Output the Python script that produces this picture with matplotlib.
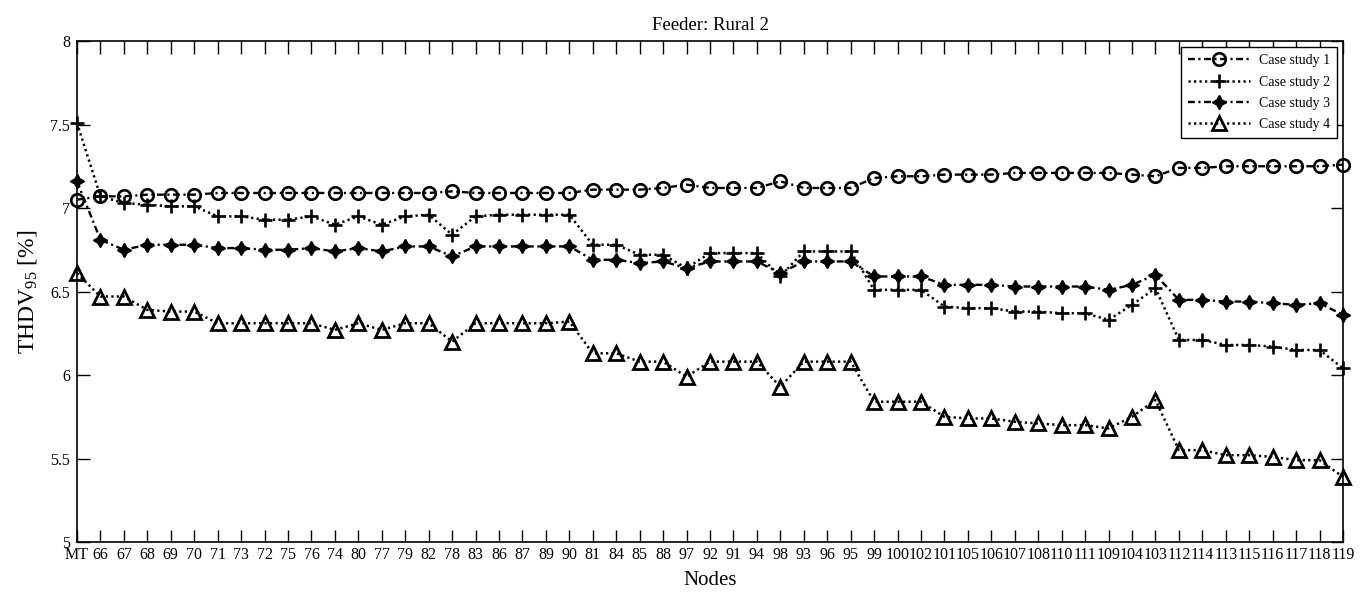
import numpy as np
import matplotlib
matplotlib.use("Agg")
import matplotlib.pyplot as plt

plt.rcParams['font.family'] = ['Liberation Serif', 'DejaVu Serif']
plt.rcParams['mathtext.fontset'] = 'custom'
plt.rcParams['mathtext.rm'] = 'Liberation Serif'
plt.rcParams['mathtext.it'] = 'Liberation Serif:italic'

# node order along the feeder
nodes = ['MT', '66', '67', '68', '69', '70', '71', '73', '72', '75', '76', '74',
         '80', '77', '79', '82', '78', '83', '86', '87', '89', '90', '81', '84',
         '85', '88', '97', '92', '91', '94', '98', '93', '96', '95', '99', '100',
         '102', '101', '105', '106', '107', '108', '110', '111', '109', '104',
         '103', '112', '114', '113', '115', '116', '117', '118', '119']

case1 = [7.05, 7.07, 7.07, 7.08, 7.08, 7.08, 7.09, 7.09, 7.09, 7.09, 7.09, 7.09,
         7.09, 7.09, 7.09, 7.09, 7.10, 7.09, 7.09, 7.09, 7.09, 7.09, 7.11, 7.11,
         7.11, 7.12, 7.14, 7.12, 7.12, 7.12, 7.16, 7.12, 7.12, 7.12, 7.18, 7.19,
         7.19, 7.20, 7.20, 7.20, 7.21, 7.21, 7.21, 7.21, 7.21, 7.20, 7.19, 7.24,
         7.24, 7.25, 7.25, 7.25, 7.25, 7.25, 7.26]

case2 = [7.51, 7.07, 7.03, 7.02, 7.01, 7.01, 6.95, 6.95, 6.93, 6.93, 6.95, 6.90,
         6.95, 6.90, 6.95, 6.96, 6.84, 6.95, 6.96, 6.96, 6.96, 6.96, 6.78, 6.78,
         6.72, 6.72, 6.64, 6.73, 6.73, 6.73, 6.59, 6.74, 6.74, 6.74, 6.51, 6.51,
         6.51, 6.41, 6.40, 6.40, 6.38, 6.38, 6.37, 6.37, 6.33, 6.42, 6.52, 6.21,
         6.21, 6.18, 6.18, 6.17, 6.15, 6.15, 6.04]

case3 = [7.16, 6.81, 6.75, 6.78, 6.78, 6.78, 6.76, 6.76, 6.75, 6.75, 6.76, 6.74,
         6.76, 6.74, 6.77, 6.77, 6.71, 6.77, 6.77, 6.77, 6.77, 6.77, 6.69, 6.69,
         6.67, 6.68, 6.64, 6.68, 6.68, 6.68, 6.61, 6.68, 6.68, 6.68, 6.59, 6.59,
         6.59, 6.54, 6.54, 6.54, 6.53, 6.53, 6.53, 6.53, 6.51, 6.54, 6.60, 6.45,
         6.45, 6.44, 6.44, 6.43, 6.42, 6.43, 6.36]

case4 = [6.61, 6.47, 6.47, 6.39, 6.38, 6.38, 6.31, 6.31, 6.31, 6.31, 6.31, 6.27,
         6.31, 6.27, 6.31, 6.31, 6.20, 6.31, 6.31, 6.31, 6.31, 6.32, 6.13, 6.13,
         6.08, 6.08, 5.99, 6.08, 6.08, 6.08, 5.93, 6.08, 6.08, 6.08, 5.84, 5.84,
         5.84, 5.75, 5.74, 5.74, 5.72, 5.71, 5.70, 5.70, 5.68, 5.75, 5.85, 5.55,
         5.55, 5.52, 5.52, 5.51, 5.49, 5.49, 5.39]

x = np.arange(len(nodes))

# matlab-like dash patterns (scaled by line width)
dashdot = (0, (2.9, 1.5, 0.9, 1.5))
dotted = (0, (0.9, 1.3))

fig = plt.figure(figsize=(13.7, 5.97), dpi=100)
ax = fig.add_axes([0.0562, 0.0921, 0.9241, 0.8392])

ax.plot(x, case1, linestyle=dashdot, color='k', lw=1.7, marker='o', ms=9,
        mfc='none', mew=1.9, label='Case study 1', clip_on=False)
ax.plot(x, case2, linestyle=dotted, color='k', lw=1.8, marker='+', ms=10,
        mew=1.9, label='Case study 2', clip_on=False)
ax.plot(x, case3, linestyle=dashdot, color='k', lw=1.7, marker=(4, 1, 0), ms=10,
        mew=1.2, label='Case study 3', clip_on=False)
ax.plot(x, case4, linestyle=dotted, color='k', lw=1.8, marker='^', ms=10,
        mfc='none', mew=2.0, label='Case study 4', clip_on=False)

ax.set_xlim(0, len(nodes) - 1)
ax.set_ylim(5, 8)
ax.set_xticks(x)
ax.set_xticklabels(nodes)
ax.set_yticks([5, 5.5, 6, 6.5, 7, 7.5, 8])
ax.set_yticklabels(['5', '5.5', '6', '6.5', '7', '7.5', '8'])
ax.tick_params(direction='in', length=9, width=1, top=True, right=True,
               labelsize=11.5)
ax.tick_params(axis='x', pad=3.5)
ax.tick_params(axis='y', pad=5)
for s in ax.spines.values():
    s.set_linewidth(1.2)

ax.set_title('Feeder: Rural 2', fontsize=13.5, pad=8)
ax.set_xlabel('Nodes', fontsize=15, labelpad=6)
ax.set_ylabel(r'THDV$_{\rm 95}$ [%]', fontsize=17, labelpad=8)

leg = ax.legend(loc='upper right', fontsize=10, fancybox=False, framealpha=1,
                edgecolor='k', handlelength=4.5, borderaxespad=0.45,
                labelspacing=0.6, borderpad=0.5, handletextpad=0.6)
leg.get_frame().set_linewidth(1.0)

fig.savefig('out.png', dpi=100)
